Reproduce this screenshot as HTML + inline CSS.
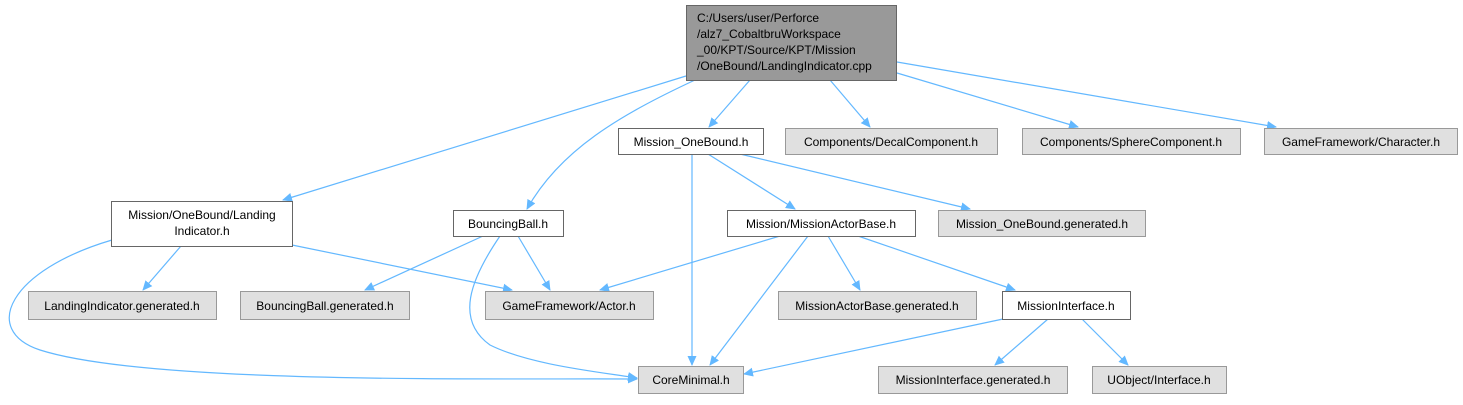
<!DOCTYPE html>
<html><head><meta charset="utf-8"><style>
html,body{margin:0;padding:0;background:#fff;}
svg text{font-family:"Liberation Sans",Arial,sans-serif;font-size:12px;fill:#000;}
</style></head><body>
<svg width="1463" height="400" viewBox="0 0 1463 400" xmlns="http://www.w3.org/2000/svg">
<defs><marker id="a" markerWidth="10" markerHeight="10" refX="9" refY="5" orient="auto" markerUnits="userSpaceOnUse"><path d="M0,0.5 L10,5 L0,9.5 z" fill="#63b8ff"/></marker></defs>
<g fill="none" stroke="#63b8ff" stroke-width="1.2" marker-end="url(#a)">
<path d="M686,76 L283,200"/>
<path d="M695,80 C620,115 560,150 527,209"/>
<path d="M750,80 L709,127"/>
<path d="M830,80 L870,127"/>
<path d="M897,73 L1078,127"/>
<path d="M897,62 L1276,127"/>
<path d="M692,154 L692,365"/>
<path d="M708,154 L795,209"/>
<path d="M740,154 L970,209"/>
<path d="M181,246 L143,290"/>
<path d="M292,245 L512,290"/>
<path d="M112,240 C10,270 -20,330 40,350 C150,385 500,378 637,379"/>
<path d="M483,236 L365,290"/>
<path d="M518,236 L550,290"/>
<path d="M500,236 C470,280 455,320 490,345 C530,365 600,372 637,378"/>
<path d="M780,236 L600,290"/>
<path d="M808,236 L710,365"/>
<path d="M828,236 L860,290"/>
<path d="M858,236 L1015,290"/>
<path d="M1003,319 L744,374"/>
<path d="M1048,319 L995,365"/>
<path d="M1082,319 L1128,365"/>
</g>
<g stroke-width="1">
<rect x="686.5" y="5.5" width="210" height="75" fill="#999" stroke="#666"/>
<rect x="618.5" y="128.5" width="145" height="26" fill="#fff" stroke="#666"/>
<rect x="785.5" y="128.5" width="212" height="26" fill="#e0e0e0" stroke="#999"/>
<rect x="1022.5" y="128.5" width="218" height="26" fill="#e0e0e0" stroke="#999"/>
<rect x="1264.5" y="128.5" width="193" height="26" fill="#e0e0e0" stroke="#999"/>
<rect x="111.5" y="201.5" width="181" height="45" fill="#fff" stroke="#666"/>
<rect x="453.5" y="210.5" width="110" height="26" fill="#fff" stroke="#666"/>
<rect x="727.5" y="210.5" width="188" height="26" fill="#fff" stroke="#666"/>
<rect x="938.5" y="210.5" width="207" height="26" fill="#e0e0e0" stroke="#999"/>
<rect x="28.5" y="291.5" width="188" height="28" fill="#e0e0e0" stroke="#999"/>
<rect x="240.5" y="291.5" width="169" height="28" fill="#e0e0e0" stroke="#999"/>
<rect x="485.5" y="291.5" width="168" height="28" fill="#e0e0e0" stroke="#999"/>
<rect x="778.5" y="291.5" width="198" height="28" fill="#e0e0e0" stroke="#999"/>
<rect x="1002.5" y="291.5" width="128" height="28" fill="#fff" stroke="#666"/>
<rect x="638.5" y="366.5" width="105" height="27" fill="#e0e0e0" stroke="#999"/>
<rect x="878.5" y="366.5" width="189" height="27" fill="#e0e0e0" stroke="#999"/>
<rect x="1092.5" y="366.5" width="134" height="27" fill="#e0e0e0" stroke="#999"/>
</g>
<text x="697" y="22">C:/Users/user/Perforce</text>
<text x="697" y="38">/alz7_CobaltbruWorkspace</text>
<text x="697" y="54">_00/KPT/Source/KPT/Mission</text>
<text x="697" y="70">/OneBound/LandingIndicator.cpp</text>
<g text-anchor="middle">
<text x="691" y="146">Mission_OneBound.h</text>
<text x="891" y="146">Components/DecalComponent.h</text>
<text x="1131" y="146">Components/SphereComponent.h</text>
<text x="1361" y="146">GameFramework/Character.h</text>
<text x="202" y="219">Mission/OneBound/Landing</text>
<text x="202" y="235">Indicator.h</text>
<text x="508" y="228">BouncingBall.h</text>
<text x="821" y="228">Mission/MissionActorBase.h</text>
<text x="1042" y="228">Mission_OneBound.generated.h</text>
<text x="122" y="310">LandingIndicator.generated.h</text>
<text x="325" y="310">BouncingBall.generated.h</text>
<text x="569" y="310">GameFramework/Actor.h</text>
<text x="877" y="310">MissionActorBase.generated.h</text>
<text x="1066" y="310">MissionInterface.h</text>
<text x="691" y="384">CoreMinimal.h</text>
<text x="973" y="384">MissionInterface.generated.h</text>
<text x="1159" y="384">UObject/Interface.h</text>
</g>
</svg>
</body></html>
